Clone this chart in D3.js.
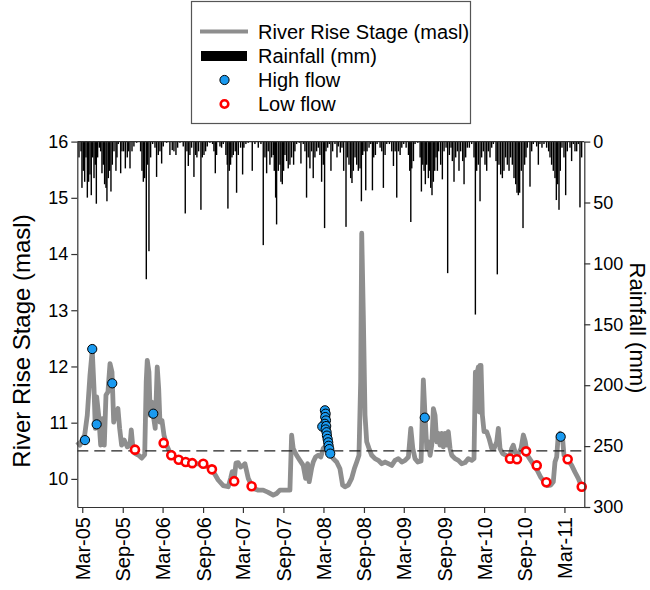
<!DOCTYPE html>
<html lang="en">
<head>
<meta charset="UTF-8">
<script src="https://d3js.org/d3.v7.min.js"></script>
<style>
  body { margin: 0; background: #fff; }
  svg { font-family: "Liberation Sans", Arial, sans-serif; }
</style>
</head>
<body>
<svg width="650" height="590"></svg>
<script>
// river stage (decimal year, masl)
const stageYear = [2005.100,2005.133,2005.167,2005.192,2005.224,2005.258,2005.286,2005.308,2005.324,2005.341,2005.366,2005.391,2005.411,2005.436,2005.457,2005.482,2005.507,2005.532,2005.553,2005.581,2005.606,2005.627,2005.652,2005.685,2005.722,2005.756,2005.772,2005.793,2005.822,2005.864,2005.901,2005.939,2005.958,2005.971,2005.992,2006.008,2006.026,2006.046,2006.070,2006.095,2006.113,2006.129,2006.154,2006.179,2006.212,2006.253,2006.316,2006.378,2006.461,2006.543,2006.648,2006.730,2006.792,2006.854,2006.917,2006.979,2007.009,2007.029,2007.050,2007.075,2007.103,2007.133,2007.166,2007.187,2007.228,2007.290,2007.352,2007.414,2007.477,2007.539,2007.581,2007.622,2007.663,2007.706,2007.747,2007.768,2007.788,2007.830,2007.871,2007.912,2007.942,2007.967,2007.987,2008.017,2008.037,2008.066,2008.099,2008.132,2008.161,2008.203,2008.244,2008.285,2008.328,2008.369,2008.402,2008.431,2008.472,2008.514,2008.547,2008.577,2008.605,2008.626,2008.639,2008.659,2008.680,2008.701,2008.730,2008.763,2008.804,2008.845,2008.888,2008.929,2008.970,2009.012,2009.053,2009.094,2009.137,2009.178,2009.219,2009.249,2009.274,2009.302,2009.336,2009.377,2009.405,2009.426,2009.448,2009.468,2009.489,2009.510,2009.530,2009.551,2009.572,2009.592,2009.613,2009.634,2009.654,2009.675,2009.697,2009.716,2009.738,2009.759,2009.800,2009.841,2009.883,2009.924,2009.965,2010.008,2010.036,2010.053,2010.070,2010.090,2010.102,2010.111,2010.123,2010.140,2010.161,2010.194,2010.223,2010.257,2010.285,2010.319,2010.339,2010.360,2010.393,2010.435,2010.476,2010.505,2010.525,2010.546,2010.580,2010.621,2010.650,2010.675,2010.700,2010.742,2010.783,2010.824,2010.866,2010.907,2010.948,2010.991,2011.023,2011.044,2011.065,2011.085,2011.106,2011.135,2011.156,2011.181,2011.210,2011.252,2011.293,2011.334,2011.377,2011.397]
const stageVal = [10.66,10.60,10.72,10.78,11.13,11.85,12.29,11.61,10.90,11.46,11.13,10.60,11.07,10.60,11.49,11.55,12.05,11.90,11.01,11.19,11.25,10.90,10.60,10.69,10.57,10.60,10.87,10.54,10.45,10.42,10.37,10.43,11.73,12.11,11.90,11.13,11.37,11.13,10.90,11.99,11.61,11.01,11.04,10.78,10.60,10.47,10.39,10.35,10.30,10.28,10.26,10.21,10.13,9.98,9.88,9.86,10.01,10.13,9.95,10.28,10.29,10.21,10.24,10.27,10.01,9.83,9.80,9.80,9.76,9.71,9.74,9.80,9.80,9.80,9.80,10.78,10.54,10.42,10.33,10.24,10.01,10.27,9.95,10.19,10.30,10.39,10.42,10.39,10.54,10.60,10.48,10.36,10.30,10.18,9.89,9.86,9.89,10.01,10.18,10.30,10.42,11.73,14.37,12.91,11.13,10.66,10.54,10.42,10.36,10.33,10.27,10.30,10.27,10.24,10.33,10.36,10.30,10.33,10.39,10.90,10.54,10.36,10.30,10.32,11.76,11.13,10.54,10.66,10.42,10.60,11.25,11.13,10.66,10.81,10.60,10.81,10.57,10.81,10.60,10.84,10.54,10.42,10.36,10.33,10.27,10.29,10.36,10.33,10.36,11.90,11.85,11.99,11.19,12.02,12.02,11.13,10.84,10.84,10.72,10.54,10.54,10.66,10.90,10.54,10.45,10.42,10.36,10.54,10.60,10.48,10.42,10.54,10.78,10.66,10.42,10.33,10.24,10.15,10.03,9.95,9.88,9.89,9.95,10.30,10.39,10.78,10.81,10.78,10.42,10.39,10.33,10.24,10.12,10.01,9.86,9.80]

// sampling events
const highYear = [2005.196,2005.286,2005.341,2005.535,2006.046,2008.182,2008.191,2008.186,2008.195,2008.182,2008.149,2008.198,2008.191,2008.203,2008.207,2008.216,2008.223,2008.228,2008.236,2008.248,2009.423,2011.115]
const highVal = [10.69,12.31,10.97,11.70,11.16,11.22,11.16,11.10,11.04,10.98,10.93,10.94,10.88,10.83,10.77,10.71,10.65,10.59,10.53,10.45,11.09,10.75]
const lowYear = [2005.818,2006.175,2006.270,2006.362,2006.449,2006.531,2006.668,2006.776,2007.053,2007.270,2010.484,2010.571,2010.684,2010.817,2010.936,2011.202,2011.377]
const lowVal = [10.52,10.64,10.42,10.34,10.30,10.28,10.27,10.17,9.96,9.87,10.36,10.35,10.49,10.24,9.94,10.35,9.86]

// daily rainfall (decimal year, mm)
const rainYear = [2005.121,2005.146,2005.158,2005.175,2005.192,2005.208,2005.225,2005.241,2005.258,2005.274,2005.291,2005.308,2005.324,2005.337,2005.353,2005.374,2005.391,2005.407,2005.424,2005.440,2005.457,2005.469,2005.486,2005.503,2005.519,2005.536,2005.557,2005.581,2005.594,2005.610,2005.640,2005.656,2005.677,2005.698,2005.722,2005.739,2005.756,2005.781,2005.805,2005.839,2005.888,2005.905,2005.922,2005.938,2005.959,2005.975,2005.992,2006.013,2006.038,2006.067,2006.087,2006.108,2006.129,2006.150,2006.170,2006.212,2006.253,2006.282,2006.303,2006.328,2006.349,2006.378,2006.419,2006.444,2006.465,2006.482,2006.502,2006.523,2006.552,2006.573,2006.589,2006.610,2006.639,2006.656,2006.677,2006.697,2006.718,2006.751,2006.784,2006.801,2006.818,2006.834,2006.876,2006.896,2006.917,2006.950,2006.967,2006.975,2006.992,2007.008,2007.025,2007.042,2007.066,2007.083,2007.104,2007.133,2007.158,2007.174,2007.199,
  2007.228,2007.278,2007.311,2007.353,2007.386,2007.415,2007.436,2007.457,2007.477,2007.498,2007.519,2007.540,2007.552,2007.569,2007.581,2007.602,2007.623,2007.635,2007.652,2007.668,2007.685,2007.706,2007.726,2007.747,2007.768,2007.793,2007.809,2007.830,2007.863,2007.884,2007.913,2007.934,2007.954,2007.975,2007.996,2008.017,2008.037,2008.058,2008.079,2008.100,2008.120,2008.141,2008.162,2008.178,2008.195,2008.216,2008.236,2008.257,2008.278,2008.307,2008.332,2008.348,2008.373,2008.394,2008.415,2008.444,2008.460,2008.481,2008.502,2008.518,2008.535,2008.556,2008.577,2008.597,2008.618,2008.635,2008.651,2008.668,2008.689,2008.705,2008.730,2008.751,2008.772,2008.788,2008.809,2008.830,2008.867,2008.888,2008.908,2008.929,2008.950,2008.983,2009.012,2009.033,2009.054,2009.074,2009.095,2009.116,2009.137,2009.161,2009.191,2009.220,2009.236,2009.249,2009.261,2009.282,2009.302,2009.336,2009.365,2009.381,2009.398,
  2009.414,2009.430,2009.447,2009.468,2009.484,2009.497,2009.513,2009.530,2009.547,2009.563,2009.580,2009.596,2009.621,2009.642,2009.663,2009.688,2009.708,2009.729,2009.750,2009.766,2009.787,2009.808,2009.829,2009.849,2009.870,2009.895,2009.912,2009.932,2009.953,2009.978,2010.007,2010.036,2010.053,2010.069,2010.090,2010.111,2010.131,2010.152,2010.173,2010.194,2010.214,2010.235,2010.256,2010.277,2010.310,2010.326,2010.347,2010.368,2010.389,2010.409,2010.430,2010.451,2010.472,2010.492,2010.513,2010.534,2010.555,2010.571,2010.588,2010.604,2010.625,2010.646,2010.666,2010.683,2010.700,2010.733,2010.754,2010.774,2010.816,2010.837,2010.857,2010.882,2010.907,2010.940,2010.965,2010.982,2011.002,2011.023,2011.044,2011.061,2011.077,2011.094,2011.110,2011.131,2011.156,2011.177,2011.197,2011.231,2011.251,2011.272,2011.293,2011.314,2011.334,2011.355,2011.376]
const rainMM = [13,8,38,24,33,13,46,33,27,44,13,30,19,51,13,5,8,26,19,35,38,49,30,24,41,19,8,24,13,2,26,8,8,22,13,8,22,8,4,1,8,24,33,30,113,19,90,13,2,5,29,11,8,18,4,1,11,7,8,11,5,1,4,59,8,20,11,5,29,11,13,8,56,13,11,8,4,1,2,8,26,11,4,5,2,11,19,55,24,19,13,11,8,42,11,5,27,5,2,
  1,24,2,5,2,85,13,26,8,19,13,11,24,46,68,24,19,33,35,24,11,16,22,19,13,19,8,2,1,18,2,8,46,13,22,8,30,13,8,5,11,33,19,71,8,5,2,24,8,2,13,4,9,5,24,70,13,19,30,34,24,13,19,24,22,49,11,8,40,8,5,2,40,13,11,2,5,8,38,11,2,2,8,20,8,46,8,11,5,2,5,11,24,66,22,16,2,1,13,41,19,
  24,35,19,30,24,38,44,33,24,13,24,8,19,31,8,5,108,11,5,16,33,13,8,24,8,16,35,13,5,5,2,13,142,24,19,49,13,8,19,24,8,13,5,2,16,109,19,27,30,24,13,19,24,13,19,30,35,42,44,42,24,71,19,13,5,37,8,2,4,19,2,5,2,5,8,13,19,24,30,48,35,56,24,5,13,44,8,5,16,2,8,8,2,54,13]

const stageTicks = [10, 11, 12, 13, 14, 15, 16]
const rainTicks = [0, 50, 100, 150, 200, 250, 300]
const threshold = 10.5

// decimal year -> Date
const toDate = yr => {
  const y = Math.floor(yr)
  const a = new Date(y, 0, 1), b = new Date(y + 1, 0, 1)
  return new Date(+a + (yr - y) * (b - a))
}

const L = 77.3, R = 584.3, T = 141.6, B = 507
const svg = d3.select("svg")

const x = d3.scaleTime()
  .domain([toDate(2005.100), toDate(2011.409)])
  .range([L, R])
const yL = d3.scaleLinear().domain([9.5, 16]).range([B, T])
const yR = d3.scaleLinear().domain([0, 300]).range([T, B])

// rainfall bars hanging from the top
svg.append("g")
  .selectAll("rect")
  .data(rainYear.map((d, i) => ({ t: toDate(d), v: rainMM[i] })))
  .join("rect")
  .attr("x", d => x(d.t) - 0.7)
  .attr("y", T)
  .attr("width", 1.4)
  .attr("height", d => yR(d.v) - T)
  .attr("fill", "#000")

// river stage line
const line = d3.line()
  .x(d => x(d.t))
  .y(d => yL(d.v))
svg.append("path")
  .datum(stageYear.map((d, i) => ({ t: toDate(d), v: stageVal[i] })))
  .attr("d", line)
  .attr("fill", "none")
  .attr("stroke", "#8e8e8e")
  .attr("stroke-width", 4.8)
  .attr("stroke-linejoin", "round")

// threshold
svg.append("line")
  .attr("x1", L).attr("x2", R)
  .attr("y1", yL(threshold)).attr("y2", yL(threshold))
  .attr("stroke", "#222")
  .attr("stroke-width", 1.2)
  .attr("stroke-dasharray", "11,6")

// low flow
svg.append("g")
  .selectAll("circle")
  .data(lowYear.map((d, i) => ({ t: toDate(d), v: lowVal[i] })))
  .join("circle")
  .attr("cx", d => x(d.t))
  .attr("cy", d => yL(d.v))
  .attr("r", 4)
  .attr("fill", "#fff")
  .attr("stroke", "#ff0000")
  .attr("stroke-width", 2.6)

// high flow
svg.append("g")
  .selectAll("circle")
  .data(highYear.map((d, i) => ({ t: toDate(d), v: highVal[i] })))
  .join("circle")
  .attr("cx", d => x(d.t))
  .attr("cy", d => yL(d.v))
  .attr("r", 4.6)
  .attr("fill", "#1a9af0")
  .attr("stroke", "#000")
  .attr("stroke-width", 1)

// axes
const months = d3.timeMonth.range(new Date(2005, 0, 1), new Date(2011, 6, 1))
  .filter(d => d.getMonth() === 2 || d.getMonth() === 8)

const gx = svg.append("g")
  .attr("transform", `translate(0,${B})`)
  .call(d3.axisBottom(x).tickValues(months).tickFormat(d3.timeFormat("%b-%y")).tickSize(6).tickSizeOuter(0))
gx.selectAll("text")
  .attr("transform", "rotate(-90)")
  .attr("text-anchor", "end")
  .attr("x", -10).attr("y", 0).attr("dy", "0.35em")
  .attr("font-size", 20)

const gl = svg.append("g")
  .attr("transform", `translate(${L},0)`)
  .call(d3.axisLeft(yL).tickValues(stageTicks).tickFormat(d3.format("d")).tickSize(6).tickSizeOuter(0))
gl.selectAll("text").attr("font-size", 18)

const gr = svg.append("g")
  .attr("transform", `translate(${R},0)`)
  .call(d3.axisRight(yR).tickValues(rainTicks).tickSize(6).tickSizeOuter(0))
gr.selectAll("text").attr("font-size", 18)

svg.selectAll(".tick text").attr("fill", "#000")
svg.selectAll(".domain, .tick line").attr("stroke", "#333").attr("stroke-width", 1.2)

// top frame
svg.append("line")
  .attr("x1", L).attr("x2", R).attr("y1", T).attr("y2", T)
  .attr("stroke", "#333").attr("stroke-width", 1.2)

// axis titles
svg.append("text")
  .attr("transform", "translate(22,341) rotate(-90)")
  .attr("text-anchor", "middle")
  .attr("dy", "0.35em")
  .attr("font-size", 24)
  .text("River Rise Stage (masl)")
svg.append("text")
  .attr("transform", "translate(638,328) rotate(90)")
  .attr("text-anchor", "middle")
  .attr("dy", "0.35em")
  .attr("font-size", 22)
  .text("Rainfall (mm)")

// legend
const lg = svg.append("g")
lg.append("rect")
  .attr("x", 191.5).attr("y", 1.5).attr("width", 279).attr("height", 122)
  .attr("fill", "#fff").attr("stroke", "#555").attr("stroke-width", 1.2)
lg.append("line")
  .attr("x1", 200).attr("x2", 248).attr("y1", 31.5).attr("y2", 31.5)
  .attr("stroke", "#8e8e8e").attr("stroke-width", 4)
lg.append("rect")
  .attr("x", 201).attr("y", 51).attr("width", 46).attr("height", 10)
  .attr("fill", "#000")
lg.append("circle")
  .attr("cx", 224.5).attr("cy", 80).attr("r", 4.6)
  .attr("fill", "#1a9af0").attr("stroke", "#000")
lg.append("circle")
  .attr("cx", 224.5).attr("cy", 104).attr("r", 3.8)
  .attr("fill", "#fff").attr("stroke", "#ff0000").attr("stroke-width", 2.6)
const labels = ["River Rise Stage (masl)", "Rainfall (mm)", "High flow", "Low flow"]
lg.selectAll("text.lab")
  .data(labels)
  .join("text")
  .attr("class", "lab")
  .attr("x", 258)
  .attr("y", (d, i) => [31.5, 56, 80, 104][i])
  .attr("dy", "0.35em")
  .attr("font-size", 20)
  .text(d => d)
</script>
</body>
</html>
